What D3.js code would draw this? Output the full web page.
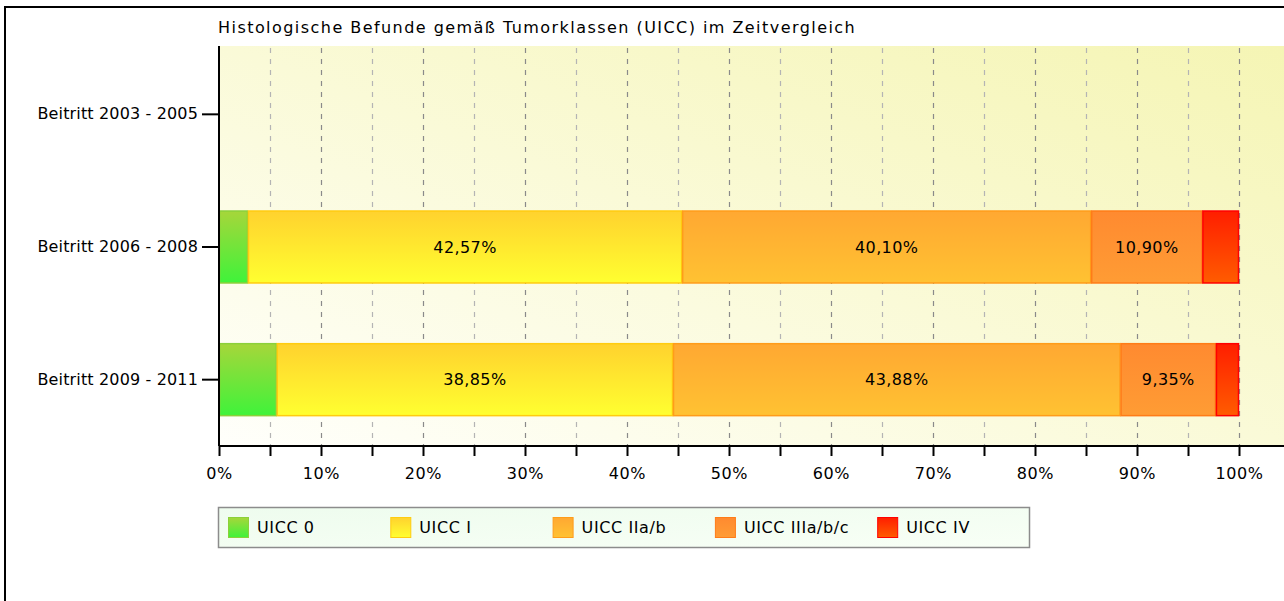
<!DOCTYPE html>
<html><head><meta charset="utf-8">
<script src="https://cdn.jsdelivr.net/npm/d3@7"></script>
<style>html,body{margin:0;padding:0;background:#fff;overflow:hidden}</style>
</head><body>
<svg id="chart" width="1284" height="601"></svg>
<script>
const categories = ["Beitritt 2003 - 2005", "Beitritt 2006 - 2008", "Beitritt 2009 - 2011"];
const seriesNames = ["UICC 0", "UICC I", "UICC IIa/b", "UICC IIIa/b/c", "UICC IV"];
const uicc0    = [0, 2.84, 5.66];
const uicc1    = [0, 42.57, 38.85];
const uicc2    = [0, 40.10, 43.88];
const uicc3    = [0, 10.90, 9.35];
const uicc4    = [0, 3.59, 2.26];
const xTicks = [0,10,20,30,40,50,60,70,80,90,100];
const title = "Histologische Befunde gemäß Tumorklassen (UICC) im Zeitvergleich";

const seriesVals = [uicc0, uicc1, uicc2, uicc3, uicc4];
const grads = [
  {top:"#a6d63a", bot:"#3ff33a", stroke:"#8cd03a"},
  {top:"#ffd22e", bot:"#ffff30", stroke:"#ffcc10"},
  {top:"#ffa832", bot:"#ffc232", stroke:"#ff9c1a"},
  {top:"#ff8a30", bot:"#ff9c34", stroke:"#ff7c18"},
  {top:"#ff1e00", bot:"#ff5c00", stroke:"#ff0000"}
];

const svg = d3.select("#chart");
const font = "DejaVu Sans, Verdana, sans-serif";
const M = {left:219, top:48, right:1239, bottom:446};

const defs = svg.append("defs");
const bg = defs.append("linearGradient").attr("id","bg").attr("x1","0").attr("y1","1").attr("x2","1").attr("y2","0");
bg.append("stop").attr("offset","0").attr("stop-color","#fffffb");
bg.append("stop").attr("offset","1").attr("stop-color","#f5f5b4");
const lg = defs.append("linearGradient").attr("id","lg").attr("x1","0").attr("y1","0").attr("x2","1").attr("y2","1");
lg.append("stop").attr("offset","0").attr("stop-color","#eefcee");
lg.append("stop").attr("offset","1").attr("stop-color","#f8fff6");
grads.forEach((g,i)=>{
  const gr = defs.append("linearGradient").attr("id","g"+i).attr("x1","0").attr("y1","0").attr("x2","0").attr("y2","1");
  gr.append("stop").attr("offset","0").attr("stop-color",g.top);
  gr.append("stop").attr("offset","1").attr("stop-color",g.bot);
});

// outer frame
svg.append("rect").attr("x",5).attr("y",7).attr("width",1400).attr("height",800)
  .attr("fill","none").attr("stroke","#000").attr("stroke-width",2);

const x = d3.scaleLinear().domain([0,100]).range([M.left, M.right]);
const y = d3.scaleBand().domain(categories).range([M.top, M.bottom]).paddingInner(0.45).paddingOuter(0.225);

// background
svg.append("rect").attr("x",M.left).attr("y",46).attr("width",1284-M.left).attr("height",M.bottom-46).attr("fill","url(#bg)");

// grid
const gridVals = d3.range(5,101,5);
svg.append("g").selectAll("line").data(gridVals).join("line")
  .attr("x1",d=>Math.round(x(d))+0.5).attr("x2",d=>Math.round(x(d))+0.5)
  .attr("y1",48).attr("y2",M.bottom)
  .attr("stroke",d=>d%10===0?"#8a8a8a":"#b4b4b4").attr("stroke-width",1.2)
  .attr("stroke-dasharray","5,6");

// title
svg.append("text").attr("x",218).attr("y",33).attr("font-family",font).attr("font-size",16)
  .attr("letter-spacing",1.45).attr("fill","#000").text(title);

// stacked bars
const stack = categories.map((c,ci)=>{
  let acc=0; return seriesVals.map((s,si)=>{const v=s[ci]; const o={ci,si,x0:acc,x1:acc+v,v}; acc+=v; return o;});
}).flat().filter(d=>d.v>0);

const bars = svg.append("g");
bars.selectAll("rect").data(stack).join("rect")
  .attr("x",d=>x(d.x0)+0.5).attr("width",d=>x(d.x1)-x(d.x0)-1)
  .attr("y",d=>y(categories[d.ci])+0.5).attr("height",y.bandwidth()-1)
  .attr("fill",d=>"url(#g"+d.si+")").attr("stroke",d=>grads[d.si].stroke).attr("stroke-width",1.5);

bars.selectAll("text").data(stack.filter(d=>d.v>=8)).join("text")
  .attr("x",d=>x((d.x0+d.x1)/2)).attr("y",d=>y(categories[d.ci])+y.bandwidth()/2)
  .attr("dy","0.36em").attr("text-anchor","middle").attr("font-family",font).attr("font-size",16)
  .attr("letter-spacing",0.4).attr("fill","#000").text(d=>d.v.toFixed(2).replace(".",",")+"%");

// y axis
const ya = svg.append("g").attr("transform",`translate(${M.left},0)`)
  .call(d3.axisLeft(y).tickSize(17).tickPadding(4));
ya.select(".domain").attr("d",`M0,46V${M.bottom}`).attr("stroke","#000").attr("stroke-width",2);
ya.selectAll(".tick line").attr("stroke","#000").attr("stroke-width",2);
ya.selectAll(".tick text").attr("font-family",font).attr("font-size",16).attr("letter-spacing",0.15).attr("fill","#000");

// x axis
const xa = svg.append("g").attr("transform",`translate(0,${M.bottom})`)
  .call(d3.axisBottom(x).tickValues(d3.range(0,101,5)).tickSize(10).tickPadding(12)
    .tickFormat(d=>xTicks.includes(d)?d+"%":""));
xa.select(".domain").attr("d",`M${M.left},0H1284`).attr("stroke","#000").attr("stroke-width",2);
xa.selectAll(".tick line").attr("stroke","#000").attr("stroke-width",2);
xa.selectAll(".tick text").attr("font-family",font).attr("font-size",16).attr("letter-spacing",0.6).attr("fill","#000");

// legend
const leg = svg.append("g");
leg.append("rect").attr("x",218.5).attr("y",507.5).attr("width",811).attr("height",40)
  .attr("fill","url(#lg)").attr("stroke","#8c8c8c").attr("stroke-width",1.5);
const items = leg.selectAll("g").data(seriesNames).join("g")
  .attr("transform",(d,i)=>`translate(${228+i*162.3},517)`);
items.append("rect").attr("width",20).attr("height",20).attr("x",0.5).attr("y",0.5)
  .attr("fill",(d,i)=>"url(#g"+i+")").attr("stroke",(d,i)=>grads[i].stroke).attr("stroke-width",1);
items.append("text").attr("x",29).attr("y",10).attr("dy","0.36em")
  .attr("font-family",font).attr("font-size",16).attr("letter-spacing",0.6).attr("fill","#000").text(d=>d);
</script>
</body></html>
